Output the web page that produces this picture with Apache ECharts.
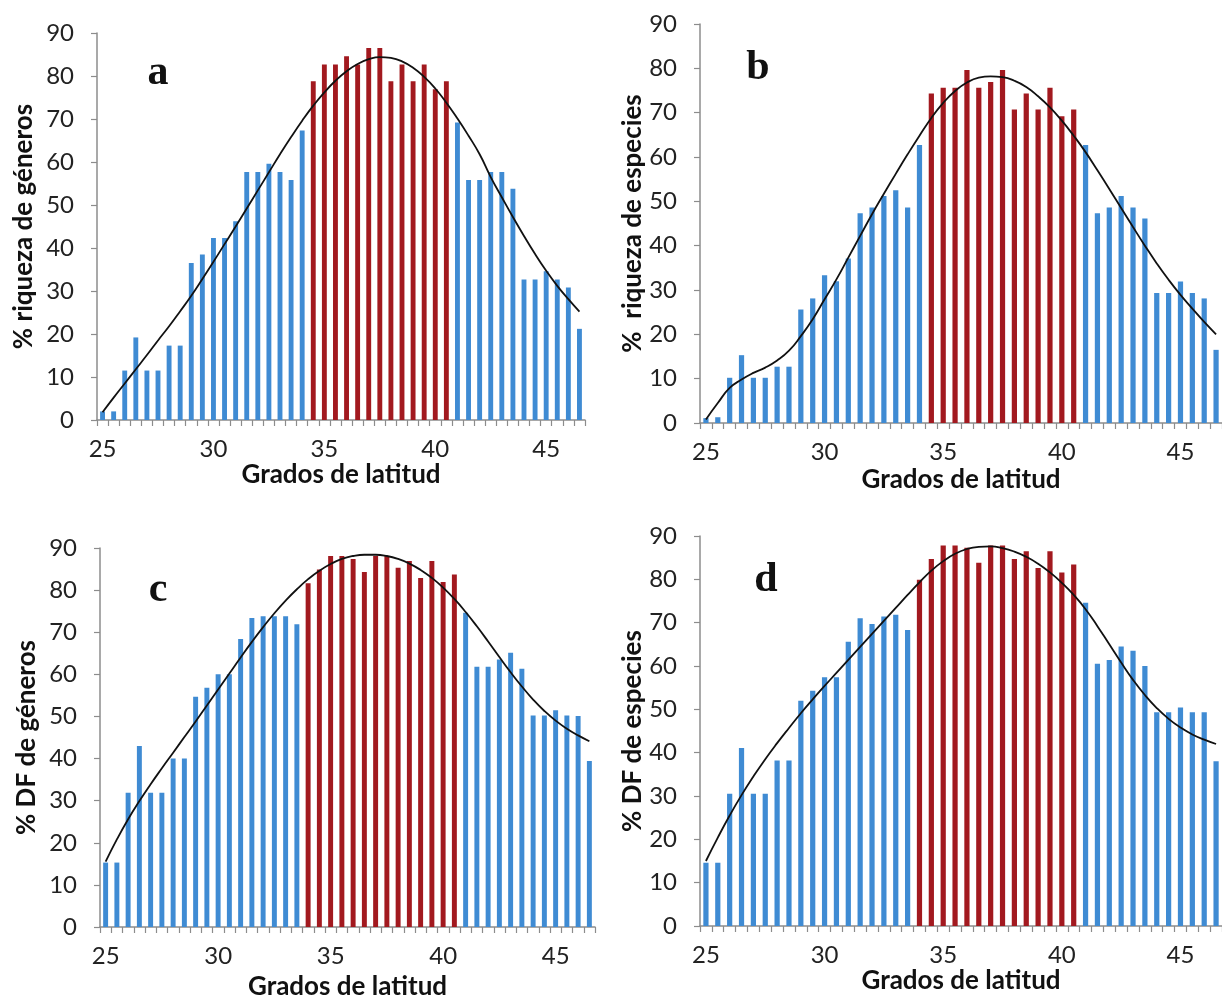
<!DOCTYPE html>
<html>
<head>
<meta charset="utf-8">
<script src="https://cdn.jsdelivr.net/npm/echarts@6/dist/echarts.min.js"></script>
<style>
  html, body { margin: 0; padding: 0; background: #fff; }
  #chart { width: 1222px; height: 1001px; }
</style>
</head>
<body>
<div id="chart"></div>
<script>
// latitude categories (0.5 degree bins)
const latitudes = ['25', '25.5', '26', '26.5', '27', '27.5', '28', '28.5', '29', '29.5',
  '30', '30.5', '31', '31.5', '32', '32.5', '33', '33.5', '34', '34.5',
  '35', '35.5', '36', '36.5', '37', '37.5', '38', '38.5', '39', '39.5',
  '40', '40.5', '41', '41.5', '42', '42.5', '43', '43.5', '44', '44.5',
  '45', '45.5', '46', '46.5']

// a: % riqueza de géneros
const riquezaGeneros = [2, 2, 11.5, 19.2, 11.5, 11.5, 17.3, 17.3, 36.5, 38.5,
  42.3, 42.3, 46.2, 57.7, 57.7, 59.6, 57.7, 55.8, 67.3, 78.8,
  82.7, 82.7, 84.6, 82.7, 86.5, 86.5, 78.8, 82.7, 78.8, 82.7,
  76.9, 78.8, 69.2, 55.8, 55.8, 57.7, 57.7, 53.8, 32.7, 32.7,
  34.6, 32.7, 30.8, 21.2]
const curvaRiquezaGeneros = [1.8, 5.2, 8.5, 11.8, 15.1, 18.5, 21.8, 25.3, 28.9, 32.8,
  36.8, 40.9, 45, 49.2, 53.4, 57.6, 61.8, 65.8, 69.6, 73.1,
  76.2, 78.9, 81.1, 82.8, 83.9, 84.4, 84.2, 83.4, 81.9, 79.8,
  77.1, 73.8, 70.1, 66.1, 61.8, 56.5, 51.8, 47.2, 42.8, 38.6,
  34.7, 31.2, 28.1, 25.2]

// b: % riqueza de especies
const riquezaEspecies = [1.1, 1.3, 10.2, 15.3, 10.2, 10.2, 12.7, 12.7, 25.6, 28.1,
  33.3, 32, 37.1, 47.3, 48.6, 51.2, 52.5, 48.6, 62.7, 74.3,
  75.6, 75.6, 79.6, 75.6, 76.9, 79.6, 70.7, 74.3, 70.7, 75.6,
  69.2, 70.7, 62.7, 47.3, 48.6, 51.2, 48.6, 46.1, 29.3, 29.3,
  31.9, 29.3, 28.1, 16.5]
const curvaRiquezaEspecies = [0.8, 4.5, 7.9, 9.8, 11.3, 12.5, 14.1, 16.3, 19.6, 23.4,
  27.9, 32.4, 37.3, 42.2, 47.1, 51.7, 56.2, 60.6, 64.8, 68.8,
  72.2, 74.9, 76.8, 77.9, 78.2, 78, 77.2, 75.8, 73.7, 71.2,
  68.2, 64.8, 61.1, 57, 52.8, 48.5, 44.2, 40, 36, 32.3,
  28.9, 25.8, 22.8, 20]

// c: % DF de géneros
const dfGeneros = [15.3, 15.3, 31.9, 43, 31.9, 31.9, 40, 40, 54.7, 56.8,
  60, 60, 68.4, 73.4, 73.8, 73.8, 73.8, 71.9, 81.6, 84.9,
  88.1, 88.1, 87.4, 84.3, 88.1, 88.1, 85.3, 86.9, 82.9, 86.9,
  81.9, 83.7, 74.6, 61.8, 61.8, 63.5, 65.1, 61.3, 50.2, 50.2,
  51.5, 50.2, 50.1, 39.4]
const curvaDfGeneros = [15.5, 20.8, 25.6, 29.9, 33.9, 37.7, 41.4, 45.1, 48.8, 52.6,
  56.4, 60.2, 64, 67.7, 71.2, 74.5, 77.5, 80.2, 82.6, 84.6,
  86.2, 87.4, 88.1, 88.4, 88.4, 88.1, 87.4, 86.3, 84.8, 82.9,
  80.6, 77.9, 74.8, 71.4, 67.8, 64.1, 60.5, 57.1, 54, 51.3,
  49, 47.1, 45.5, 44.1]

// d: % DF de especies
const dfEspecies = [14.6, 14.6, 30.5, 41.1, 30.5, 30.5, 38.2, 38.2, 52, 54.3,
  57.4, 57.4, 65.6, 71, 69.7, 71.4, 71.8, 68.3, 79.9, 84.7,
  87.8, 87.8, 87.3, 83.8, 87.8, 87.8, 84.7, 86.5, 82.6, 86.5,
  81.6, 83.4, 74.6, 60.5, 61.4, 64.5, 63.5, 60, 49.3, 49.3,
  50.4, 49.3, 49.3, 38]
const curvaDfEspecies = [15, 20.4, 25.5, 30.2, 34.5, 38.5, 42.2, 45.7, 49.1, 52.3,
  55.4, 58.4, 61.4, 64.4, 67.4, 70.4, 73.4, 76.4, 79.3, 82,
  84.2, 85.9, 87, 87.5, 87.6, 87.2, 86.4, 85.2, 83.6, 81.6,
  79.2, 76.4, 73.1, 69.2, 65, 60.8, 56.8, 53.3, 50.3, 47.8,
  45.8, 44.2, 43, 42]

// first / last bin of the red (central) band, per panel
const redBands = [[19, 31], [19, 31], [18, 31], [18, 31]]

const panelLetters = ['a', 'b', 'c', 'd']
const yTitles = ['% riqueza de géneros', '%  riqueza de especies', '% DF de géneros', '% DF de especies']
const xTitle = 'Grados de latitud'

const BLUE = '#3f8bd3'
const RED = '#a2191f'
const AXIS_GREY = '#8c8c8c'
const FONT = 'Lato, "Open Sans", sans-serif'

const panels = [
  { bars: riquezaGeneros, curve: curvaRiquezaGeneros,
    grid: { left: 97, top: 33, width: 488, height: 387 }, xGap: 42, yGap: 60,
    letterPos: [158, 73] },
  { bars: riquezaEspecies, curve: curvaRiquezaEspecies,
    grid: { left: 700, top: 24, width: 524, height: 399 }, xGap: 44, yGap: 54,
    letterPos: [758, 68] },
  { bars: dfGeneros, curve: curvaDfGeneros,
    grid: { left: 100, top: 548, width: 495, height: 380 }, xGap: 47, yGap: 60,
    letterPos: [158, 590] },
  { bars: dfEspecies, curve: curvaDfEspecies,
    grid: { left: 700, top: 536, width: 524, height: 390 }, xGap: 31, yGap: 54,
    letterPos: [766, 580] },
]

const grids = []
const xAxes = []
const yAxes = []
const series = []
const graphics = []

panels.forEach((p, k) => {
  grids.push(p.grid)
  xAxes.push({
    type: 'category',
    gridIndex: k,
    data: latitudes,
    boundaryGap: true,
    name: xTitle,
    nameLocation: 'middle',
    nameGap: p.xGap,
    nameTextStyle: { fontFamily: FONT, fontWeight: 'bold', fontSize: 26, color: '#111' },
    axisLine: { lineStyle: { color: AXIS_GREY, width: 1.5 } },
    axisTick: { show: true, interval: 0, length: 6, lineStyle: { color: AXIS_GREY, width: 1.2 } },
    axisLabel: { interval: 9, margin: 17, fontFamily: FONT, fontSize: 24, color: '#222' },
    splitLine: { show: false },
  })
  yAxes.push({
    type: 'value',
    gridIndex: k,
    min: 0,
    max: 90,
    interval: 10,
    name: yTitles[k],
    nameLocation: 'middle',
    nameGap: p.yGap,
    nameTextStyle: { fontFamily: FONT, fontWeight: 'bold', fontSize: 26, color: '#111' },
    axisLine: { show: true, lineStyle: { color: AXIS_GREY, width: 1.5 } },
    axisTick: { show: true, length: 6, lineStyle: { color: AXIS_GREY, width: 1.2 } },
    axisLabel: { margin: 23, fontFamily: FONT, fontSize: 24, color: '#222' },
    splitLine: { show: false },
  })
  const [r0, r1] = redBands[k]
  series.push({
    type: 'bar',
    xAxisIndex: k,
    yAxisIndex: k,
    data: p.bars,
    barWidth: '44%',
    itemStyle: {
      color: (d) => (d.dataIndex >= r0 && d.dataIndex <= r1 ? RED : BLUE),
    },
    silent: true,
  })
  series.push({
    type: 'line',
    xAxisIndex: k,
    yAxisIndex: k,
    data: p.curve,
    smooth: true,
    symbol: 'none',
    lineStyle: { color: '#111', width: 1.8 },
    z: 5,
    silent: true,
  })
  graphics.push({
    type: 'text',
    x: p.letterPos[0],
    y: p.letterPos[1],
    style: {
      text: panelLetters[k],
      font: 'bold 42px "Liberation Serif", "DejaVu Serif", serif',
      fill: '#111',
      textAlign: 'center',
      textVerticalAlign: 'middle',
    },
  })
})

const chart = echarts.init(document.getElementById('chart'), null, { renderer: 'canvas' })
chart.setOption({
  animation: false,
  backgroundColor: '#fff',
  grid: grids,
  xAxis: xAxes,
  yAxis: yAxes,
  series,
  graphic: graphics,
})
</script>
</body>
</html>
